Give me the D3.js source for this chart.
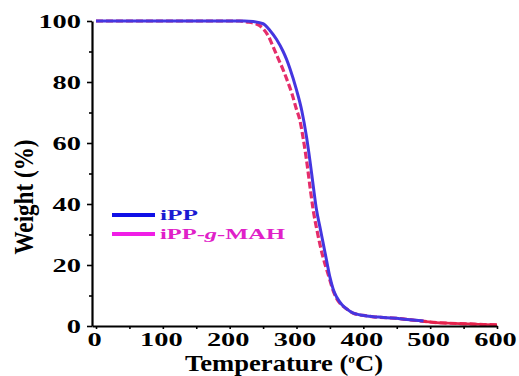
<!DOCTYPE html>
<html>
<head>
<meta charset="utf-8">
<script src="https://cdn.jsdelivr.net/npm/d3@7"></script>
<style>
  body { margin: 0; background: #fff; }
  svg { display: block; }
</style>
</head>
<body>
<div id="chart"></div>
<script>
// tick values
const xTicks = [0, 100, 200, 300, 400, 500, 600];
const xMinor = [50, 150, 250, 350, 450, 550];
const yTicks = [0, 20, 40, 60, 80, 100];
const yMinor = [10, 30, 50, 70, 90];

// iPP (blue, solid)
const ippTemp   = [0, 100, 200, 222, 235, 250, 260, 270, 280, 285, 290, 300, 308, 315, 320, 325, 330, 335, 340, 345, 350, 355, 360, 368, 375, 385, 405, 430, 455, 490];
const ippWeight = [100, 100, 100, 100, 99.8, 99.1, 97.0, 94.0, 90.0, 87.5, 84.5, 77.4, 70.5, 62.0, 54.4, 46.0, 38.0, 32.5, 27.0, 21.5, 16.0, 12.0, 9.5, 7.0, 5.6, 4.2, 3.3, 2.8, 2.4, 1.6];

// iPP-g-MAH (red, dashed)
const mahTemp   = [0, 100, 200, 215, 225, 240, 250, 258, 265, 272, 280, 287, 293, 300, 305, 310, 315, 320, 325, 331, 338, 343, 348, 355, 360, 368, 375, 385, 405, 455, 480, 505, 530, 555, 580, 600];
const mahWeight = [100, 100, 100, 100, 99.7, 99.0, 97.5, 95.0, 91.6, 88.0, 84.0, 80.0, 76.3, 71.0, 67.5, 61.5, 54.4, 46.0, 38.0, 31.0, 24.0, 20.0, 16.5, 11.5, 9.0, 6.8, 5.6, 4.2, 3.3, 2.4, 1.8, 1.2, 0.9, 0.7, 0.5, 0.4];

const legendNames = ["iPP", "iPP-g-MAH"];

const width = 519, height = 376;
const serif = "'Liberation Serif', 'Times New Roman', serif";

const svg = d3.select("#chart").append("svg")
  .attr("width", width)
  .attr("height", height);

const x = d3.scaleLinear().domain([-6, 600]).range([92, 497]);
const y = d3.scaleLinear().domain([0, 100]).range([326, 21]);

const line = d3.line()
  .x(d => x(d[0]))
  .y(d => y(d[1]))
  .curve(d3.curveMonotoneX);

const ipp = ippTemp.map((t, i) => [t, ippWeight[i]]);
const mah = mahTemp.map((t, i) => [t, mahWeight[i]]);

// curves: red first, blue over it
svg.append("path")
  .datum(mah)
  .attr("fill", "none")
  .attr("stroke", "#e52d6b")
  .attr("stroke-width", 3.2)
  .attr("stroke-dasharray", "7,3")
  .attr("d", line);

svg.append("path")
  .datum(mah.filter(d => d[0] >= 455))
  .attr("fill", "none")
  .attr("stroke", "#e5224a")
  .attr("stroke-width", 2.6)
  .attr("d", line);

svg.append("path")
  .datum(ipp)
  .attr("fill", "none")
  .attr("stroke", "#4536e0")
  .attr("stroke-width", 3)
  .attr("d", line);

// axes
const xAxis = svg.append("g")
  .attr("transform", "translate(0,326)")
  .call(d3.axisBottom(x).tickValues(xTicks).tickSize(3).tickSizeOuter(0).tickPadding(6));

svg.append("g")
  .attr("transform", "translate(0,326)")
  .call(d3.axisBottom(x).tickValues(xMinor).tickSize(3).tickFormat(""))
  .call(g => g.select(".domain").remove());

const yAxis = svg.append("g")
  .attr("transform", "translate(92,0)")
  .call(d3.axisLeft(y).tickValues(yTicks).tickSize(5).tickSizeOuter(0).tickPadding(6));

svg.append("g")
  .attr("transform", "translate(92,0)")
  .call(d3.axisLeft(y).tickValues(yMinor).tickSize(3).tickFormat(""))
  .call(g => g.select(".domain").remove());

svg.selectAll(".domain").attr("stroke", "#000").attr("stroke-width", 2.2);
svg.selectAll(".tick line").attr("stroke", "#000").attr("stroke-width", 1.6);

svg.selectAll(".tick text")
  .attr("fill", "#000")
  .style("font-family", serif)
  .style("font-weight", "bold")
  .style("font-size", "19px")
  .attr("lengthAdjust", "spacingAndGlyphs")
  .attr("textLength", d => String(d).length * 14.2);

xAxis.selectAll(".tick text").attr("dx", -2).attr("y", 7);
yAxis.selectAll(".tick text").attr("x", -11);

// axis titles
const xTitle = svg.append("text")
  .attr("x", 185)
  .attr("y", 371)
  .attr("lengthAdjust", "spacingAndGlyphs")
  .attr("textLength", 198)
  .style("font-family", serif)
  .style("font-weight", "bold")
  .style("font-size", "24px")
  .attr("fill", "#000");
xTitle.append("tspan").text("Temperature (");
xTitle.append("tspan").attr("dy", -8).style("font-size", "12px").text("o");
xTitle.append("tspan").attr("dy", 8).text("C)");

svg.append("text")
  .attr("transform", "translate(33,197) scale(1.35,1) rotate(-90)")
  .attr("text-anchor", "middle")
  .attr("lengthAdjust", "spacingAndGlyphs")
  .attr("textLength", 115)
  .style("font-family", serif)
  .style("font-weight", "bold")
  .style("font-size", "21px")
  .attr("fill", "#000")
  .text("Weight (%)");

// legend
const legendLine = ["#1010e6", "#f01ee6"];
const legendText = ["#1a1ad2", "#e020c8"];
const legendY = [215, 234];
const legendLen = [38, 125];

const legend = svg.append("g");
legendNames.forEach((name, i) => {
  legend.append("line")
    .attr("x1", 112).attr("x2", 155)
    .attr("y1", legendY[i]).attr("y2", legendY[i])
    .attr("stroke", legendLine[i])
    .attr("stroke-width", 4);

  const t = legend.append("text")
    .attr("x", 160)
    .attr("y", legendY[i] + 4.5)
    .attr("lengthAdjust", "spacingAndGlyphs")
    .attr("textLength", legendLen[i])
    .style("font-family", serif)
    .style("font-weight", "bold")
    .style("font-size", "15px")
    .attr("fill", legendText[i]);

  const parts = name.split("-");
  parts.forEach((p, j) => {
    if (j > 0) t.append("tspan").text("-");
    t.append("tspan").style("font-style", p === "g" ? "italic" : "normal").text(p);
  });
});
</script>
</body>
</html>
